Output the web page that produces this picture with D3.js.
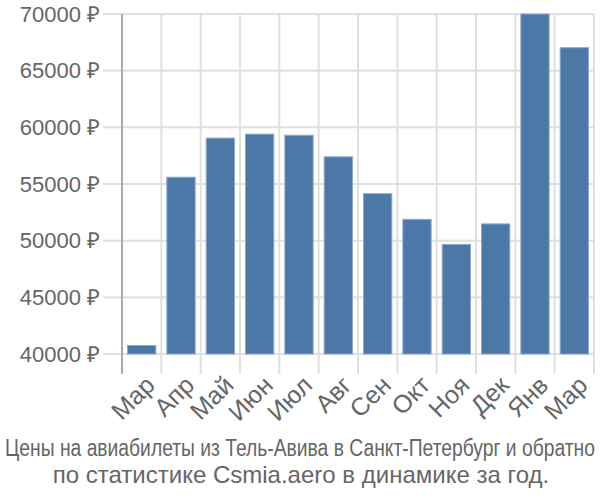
<!DOCTYPE html>
<html><head><meta charset="utf-8">
<script src="https://cdn.jsdelivr.net/npm/d3@7"></script>
<style>body{margin:0;background:#fff}svg{display:block}</style>
</head><body>
<svg id="c" width="600" height="500"></svg>
<script>
const months = ["Мар","Апр","Май","Июн","Июл","Авг","Сен","Окт","Ноя","Дек","Янв","Мар"];
const prices = [40750, 55600, 59050, 59400, 59300, 57400, 54150, 51880, 49670, 51480, 70000, 67030];
const yTicks = [40000, 45000, 50000, 55000, 60000, 65000, 70000];
const titleLines = ["Цены на авиабилеты из Тель-Авива в Санкт-Петербург и обратно",
                    "по статистике Csmia.aero в динамике за год."];

const svg = d3.select("#c");
const pL = 122, pR = 594, pT = 14, pB = 354;
const idx = months.map((m, i) => i);
const x = d3.scaleBand().domain(idx).range([pL, pR]).paddingInner(0.28).paddingOuter(0.14);
const y = d3.scaleLinear().domain([40000, 70000]).range([pB, pT]);
const fam = "Liberation Sans, Arial, sans-serif";
const grid = "#e0e0e0", txt = "#666";

svg.append("g").selectAll("line").data(yTicks).join("line")
  .attr("x1", pL - 19).attr("x2", pR)
  .attr("y1", d => y(d)).attr("y2", d => y(d))
  .attr("stroke", grid).attr("stroke-width", 2);
const bounds = d3.range(months.length + 1).map(i => pL + i * x.step());
svg.append("g").selectAll("line").data(bounds.slice(1)).join("line")
  .attr("x1", d => d).attr("x2", d => d)
  .attr("y1", pT).attr("y2", pB + 20)
  .attr("stroke", grid).attr("stroke-width", 2);
svg.append("line").attr("x1", pL).attr("x2", pL).attr("y1", pT).attr("y2", pB + 20)
  .attr("stroke", "#aaa").attr("stroke-width", 2);

svg.append("g").selectAll("rect").data(prices).join("rect")
  .attr("x", (d, i) => x(i)).attr("width", x.bandwidth())
  .attr("y", d => y(d)).attr("height", d => y(40000) - y(d))
  .attr("fill", "#4c78a8").attr("stroke", "#8ea9cb").attr("stroke-width", 1);

svg.append("g").selectAll("text").data(yTicks).join("text")
  .attr("x", 100).attr("y", d => y(d)).attr("dy", "0.35em")
  .attr("text-anchor", "end").attr("fill", txt)
  .attr("font-family", fam).attr("font-size", 22)
  .text(d => d + " ₽");

svg.append("g").selectAll("text").data(months).join("text")
  .attr("transform", (d, i) => `translate(${x(i) + x.bandwidth() / 2 + 2},${pB + 20}) rotate(-45)`)
  .attr("text-anchor", "end").attr("dy", "0.72em").attr("fill", txt)
  .attr("font-family", fam).attr("font-size", 25)
  .text(d => d);

const t1 = svg.append("text").attr("x", 0).attr("y", 0).attr("text-anchor", "middle")
  .attr("fill", txt).attr("font-family", fam).attr("font-size", 23)
  .text(titleLines[0]);
const len1 = t1.node().getComputedTextLength();
t1.attr("transform", `translate(300,456) scale(${Math.min(1, 590 / len1)},1)`);
svg.append("text").attr("x", 301).attr("y", 483).attr("text-anchor", "middle")
  .attr("fill", txt).attr("font-family", fam).attr("font-size", 24)
  .text(titleLines[1]);
</script>
</body></html>
